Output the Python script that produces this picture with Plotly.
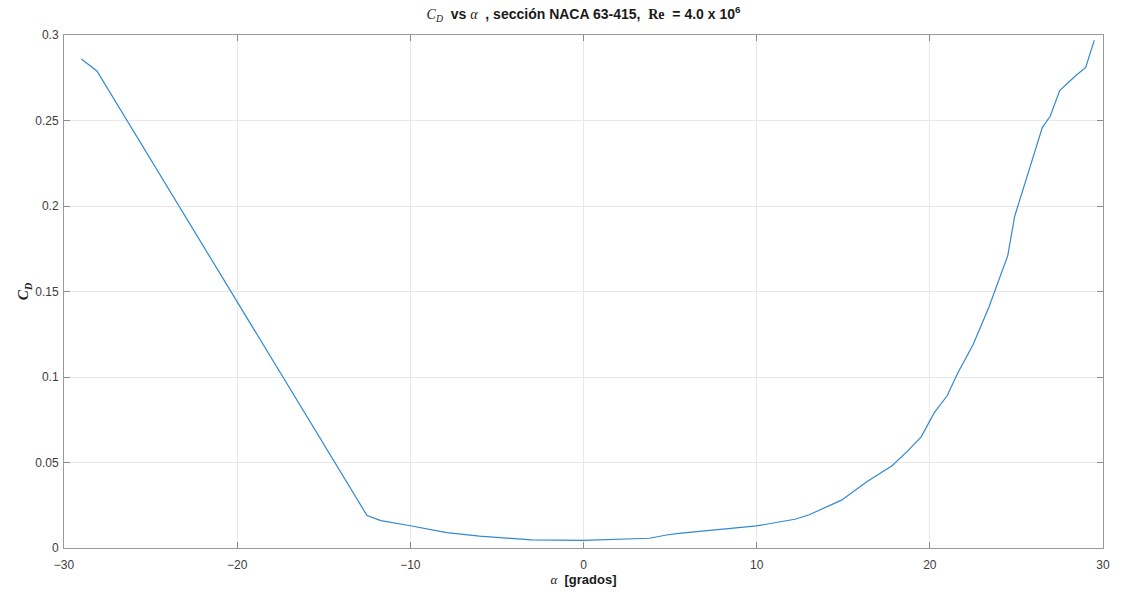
import plotly.graph_objects as go

# Drag coefficient polar of the NACA 63-415 section, Re = 4.0e6
alpha_deg = [-29.0, -28.1, -12.5, -11.7, -10.0, -7.9, -6.0, -3.0, 0.0, 3.8, 4.8, 5.5,
             10.0, 11.1, 12.2, 13.0, 14.9, 16.4, 17.8, 18.7, 19.5, 20.25, 21.0, 21.6,
             22.5, 23.4, 24.5, 24.9, 25.5, 26.5, 26.95, 27.5, 28.4, 29.0, 29.5]
cd_values = [0.286, 0.279, 0.019, 0.016, 0.013, 0.009, 0.007, 0.0047, 0.0045, 0.0057, 0.0076, 0.0086,
             0.0129, 0.0148, 0.0168, 0.0193, 0.028, 0.039, 0.048, 0.0565, 0.065, 0.079, 0.089, 0.102,
             0.119, 0.1405, 0.171, 0.194, 0.214, 0.246, 0.2525, 0.2675, 0.276, 0.281, 0.297]

x_ticks = [-30, -20, -10, 0, 10, 20, 30]
y_ticks = [0, 0.05, 0.1, 0.15, 0.2, 0.25, 0.3]
y_tick_text = ["0", "0.05", "0.1", "0.15", "0.2", "0.25", "0.3"]

SERIF = "Liberation Serif, Times New Roman, serif"
SANS = "Liberation Sans, Arial, sans-serif"

fig = go.Figure()
fig.add_trace(go.Scatter(
    x=alpha_deg, y=cd_values, mode="lines",
    line=dict(color="#3189cf", width=1.2),
    showlegend=False, hoverinfo="x+y",
))

axis_common = dict(
    showline=True, linecolor="#9a9a9a", linewidth=1, mirror="ticks",
    ticks="inside", ticklen=6, tickcolor="#8a8a8a", tickwidth=1,
    showgrid=True, gridcolor="#e8e8e8", gridwidth=1,
    zeroline=False,
    tickfont=dict(family=SANS, size=12, color="#3c3c3c"),
)

fig.update_layout(
    width=1121, height=596,
    margin=dict(l=64, r=11, t=35, b=48),
    paper_bgcolor="white", plot_bgcolor="white",
    title=dict(
        text=(f'<span style="font-family:{SERIF}"><i>C<sub>D</sub></i></span>'
              f'<b>  vs </b><span style="font-family:{SERIF}"><i>α</i></span>'
              f'<b>  , sección NACA 63-415,  </b>'
              f'<span style="font-family:{SERIF}"><b>Re</b></span>'
              f'<b>  = 4.0 x 10<sup>6</sup></b>'),
        x=0.5, xref="paper", xanchor="center",
        y=0.985, yref="container", yanchor="top",
        font=dict(family=SANS, size=14, color="#1a1a1a"),
    ),
    xaxis=dict(
        **axis_common, range=[-30, 30], tickvals=x_ticks, ticklabelstandoff=6,
        title=dict(
            text=(f'<span style="font-family:{SERIF}"><i>α</i></span>'
                  f'<b>  [grados]</b>'),
            font=dict(family=SANS, size=13, color="#1a1a1a"), standoff=2,
        ),
    ),
    yaxis=dict(
        **axis_common, range=[0, 0.3], tickvals=y_ticks, ticktext=y_tick_text,
        ticklabelstandoff=2,
        title=dict(
            text="<i><b>C<sub>D</sub></b></i>",
            font=dict(family=SERIF, size=15, color="#1a1a1a"), standoff=2,
        ),
    ),
)

fig.write_html("out.html")
